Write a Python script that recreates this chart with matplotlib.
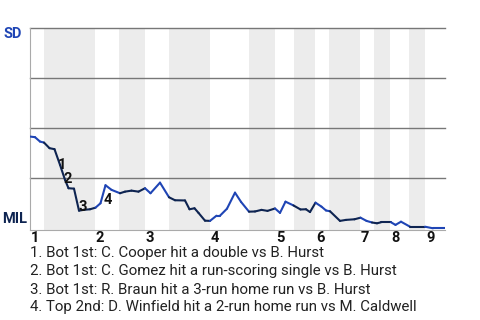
import numpy as np
import matplotlib
matplotlib.use("Agg")
import matplotlib.pyplot as plt
from matplotlib.collections import LineCollection

plt.rcParams['font.family'] = ['Roboto', 'DejaVu Sans']

# game progress (plate appearances) and SD win probability (%)
progress = [0, 1.0, 2.0, 2.8, 3.9, 4.9, 6.0, 7.0, 7.7, 8.8, 9.8, 10.7, 12.0, 13.1,
            14.1, 15.1, 16.3, 18.0, 19.0, 20.3, 21.7, 23.0, 24.1, 26.0, 27.8, 29.0,
            31.0, 31.9, 32.9, 33.7, 35.0, 36.0, 37.3, 38.0, 39.4, 41.0, 42.2, 43.8,
            45.0, 46.3, 47.5, 49.0, 50.0, 51.1, 52.7, 54.1, 55.2, 56.0, 57.1, 58.3,
            59.2, 60.0, 62.0, 63.2, 64.9, 66.1, 67.3, 68.4, 69.4, 70.2, 72.2, 73.1,
            74.2, 76.0, 79.0, 80.6, 83.0]
sd_win = [45.8, 45.5, 43.3, 42.8, 40.0, 39.5, 31.7, 24.2, 20.0, 19.8, 8.8, 9.2, 9.5, 10.3,
          12.5, 21.5, 19.2, 17.5, 18.3, 18.8, 18.3, 20.0, 17.5, 22.8, 15.5, 14.0,
          13.9, 9.5, 10.0, 7.7, 3.8, 3.7, 6.3, 6.3, 9.8, 17.8, 13.2, 8.3,
          8.4, 9.2, 8.7, 9.9, 7.7, 13.3, 11.4, 9.4, 9.5, 8.1, 12.8, 10.8,
          8.9, 8.5, 3.7, 4.2, 4.5, 5.3, 3.7, 2.9, 2.5, 3.0, 3.0, 1.7,
          3.3, 0.8, 0.8, 0.0, 0.0]

# start of each half inning (top 1 .. top 9), and end of game
half_starts = [0, 2.8, 13, 17.8, 23, 27.8, 36, 43.8, 49, 52.8, 57, 59.8, 66, 68.8,
               72, 75.8, 79]
game_end = 83
innings = ['1', '2', '3', '4', '5', '6', '7', '8', '9']

events = ['1', '2', '3', '4']
event_x = [6.4, 7.6, 10.6, 15.6]
event_y = [31.5, 24.5, 10.5, 14.0]
event_text = [
    "1. Bot 1st: C. Cooper hit a double vs B. Hurst",
    "2. Bot 1st: C. Gomez hit a run-scoring single vs B. Hurst",
    "3. Bot 1st: R. Braun hit a 3-run home run vs B. Hurst",
    "4. Top 2nd: D. Winfield hit a 2-run home run vs M. Caldwell",
]

sd_color = '#1f45b5'
mil_color = '#0e2451'

fig = plt.figure(figsize=(4.8, 3.2), dpi=100)
ax = fig.add_axes([30 / 480, 90 / 320, 415 / 480, 202 / 320])
ax.set_xlim(0, game_end)
ax.set_ylim(-0.85, 100)

# shade bottom halves
bounds = half_starts + [game_end]
for i in range(1, len(half_starts), 2):
    ax.axvspan(bounds[i], bounds[i + 1], color='#ececec', lw=0, zorder=0)

for g in [25, 50, 75, 100]:
    ax.axhline(g, color='#777777', lw=1, zorder=1, clip_on=False)

# line colored by batting team
x = np.array(progress)
y = np.array(sd_win)
segs = np.stack([np.column_stack([x[:-1], y[:-1]]), np.column_stack([x[1:], y[1:]])], axis=1)
mids = (x[:-1] + x[1:]) / 2
colors = []
for m in mids:
    idx = np.searchsorted(half_starts, m, side='right') - 1
    colors.append(mil_color if idx % 2 == 1 else sd_color)
lc = LineCollection(segs, colors=colors, linewidths=1.5, zorder=3, capstyle='round',
                    joinstyle='round')
ax.add_collection(lc)

for lab, ex, ey in zip(events, event_x, event_y):
    ax.text(ex, ey, lab, fontsize=10.5, fontweight='bold', color='#111111',
            ha='center', va='center', zorder=4)

for sp in ['top', 'right']:
    ax.spines[sp].set_visible(False)
ax.spines['left'].set_color('#aaaaaa')
ax.spines['bottom'].set_color('#aaaaaa')
ax.set_xticks([])
ax.set_yticks([])

# inning labels at the start of each top half
for k, lab in enumerate(innings):
    ax.text(half_starts[2 * k] + 0.2, -1.2, lab, fontsize=10.5, fontweight='bold',
            color='#111111', ha='left', va='top')

fig.text(3 / 480, 1 - 34 / 320, 'SD', fontsize=10.5, fontweight='bold', color=sd_color,
         ha='left', va='center')
fig.text(2 / 480, 1 - 219 / 320, 'MIL', fontsize=10.5, fontweight='bold', color=mil_color,
         ha='left', va='center')

for i, t in enumerate(event_text):
    fig.text(30 / 480, 1 - (253.5 + i * 18) / 320, t, fontsize=10.8, color='#222222',
             ha='left', va='center')

fig.savefig('out.png', dpi=100)
